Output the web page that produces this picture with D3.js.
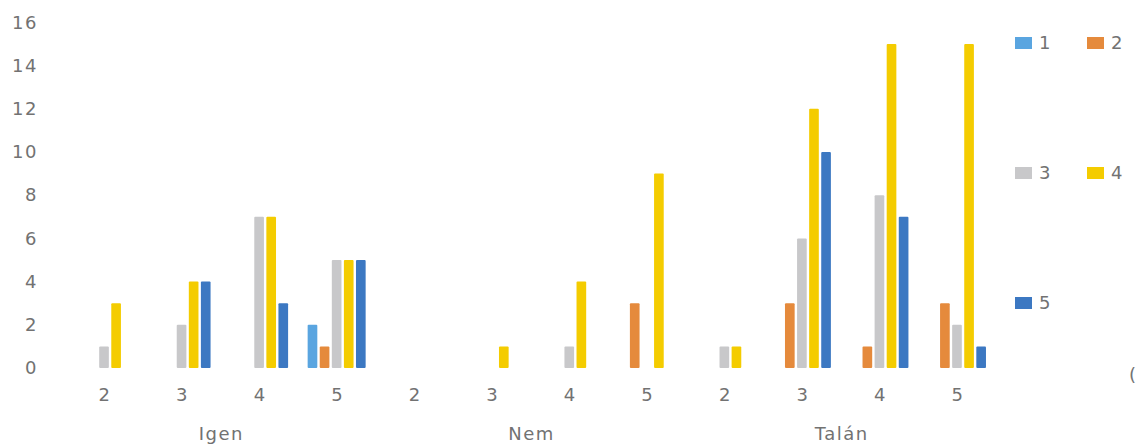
<!DOCTYPE html>
<html>
<head>
<meta charset="utf-8">
<script src="https://cdn.jsdelivr.net/npm/d3@7"></script>
<style>
  html, body { margin: 0; padding: 0; background: #fff; }
  svg { display: block; }
  text { font-family: "DejaVu Sans", "Open Sans", sans-serif; fill: #727272; letter-spacing: 1.5px; }
</style>
</head>
<body>
<svg id="chart" width="1139" height="446"></svg>
<script>
// ---- data ----
const groups = ["Igen", "Nem", "Talán"];
const subCategories = ["2", "3", "4", "5"];
const seriesNames = ["1", "2", "3", "4", "5"];
const seriesColors = ["#5aa5e0", "#e58a3c", "#c8c8ca", "#f4cc00", "#3c78c2"];
// values per category in order Igen 2..5, Nem 2..5, Talán 2..5
const series1 = [0, 0, 0, 2, 0, 0, 0, 0, 0, 0, 0, 0];
const series2 = [0, 0, 0, 1, 0, 0, 0, 3, 0, 3, 1, 3];
const series3 = [1, 2, 7, 5, 0, 0, 1, 0, 1, 6, 8, 2];
const series4 = [3, 4, 7, 5, 0, 1, 4, 9, 1, 12, 15, 15];
const series5 = [0, 4, 3, 5, 0, 0, 0, 0, 0, 10, 7, 1];
const yTicks = [0, 2, 4, 6, 8, 10, 12, 14, 16];

const allSeries = [series1, series2, series3, series4, series5];
const categories = [];
groups.forEach(g => subCategories.forEach(s => categories.push({ key: g + "-" + s, group: g, label: s })));

const svg = d3.select("#chart");
const fontSize = 18;
const fontFam = "'DejaVu Sans', 'Open Sans', sans-serif";

const x0 = d3.scaleBand().domain(categories.map(c => c.key)).range([65.25, 995.75]).padding(0);
const groupW = 58;
const x1 = d3.scaleBand().domain(seriesNames)
  .range([(x0.bandwidth() - groupW) / 2, (x0.bandwidth() + groupW) / 2])
  .paddingInner(0.2).paddingOuter(0);
const y = d3.scaleLinear().domain([0, 16]).range([368, 22.4]);

// y axis
const yAxis = d3.axisLeft(y).tickValues(yTicks).tickSize(0).tickPadding(0);
const yg = svg.append("g").attr("transform", "translate(38,0)").call(yAxis);
yg.select(".domain").remove();
yg.selectAll("text").style("font-size", fontSize + "px").attr("fill", "#727272")
  .style("font-family", fontFam);

// bars
const catG = svg.append("g").selectAll("g").data(categories).join("g")
  .attr("transform", d => `translate(${x0(d.key)},0)`);
catG.selectAll("rect")
  .data((d, i) => seriesNames.map((s, j) => ({ s, j, v: allSeries[j][i] })).filter(e => e.v > 0))
  .join("rect")
  .attr("x", e => x1(e.s))
  .attr("width", x1.bandwidth())
  .attr("y", e => y(e.v))
  .attr("height", e => y(0) - y(e.v))
  .attr("rx", 1)
  .attr("fill", e => seriesColors[e.j]);

// x axis category labels
const xAxis = d3.axisBottom(x0).tickSize(0).tickPadding(0).tickFormat(k => categories.find(c => c.key === k).label);
const xg = svg.append("g").attr("transform", "translate(1,388)").call(xAxis);
xg.select(".domain").remove();
xg.selectAll("text").style("font-size", fontSize + "px").attr("fill", "#727272")
  .style("font-family", fontFam);

// group labels
svg.append("g").selectAll("text").data(groups).join("text")
  .attr("x", g => {
    const ks = categories.filter(c => c.group === g).map(c => x0(c.key) + x0.bandwidth() / 2);
    return (d3.min(ks) + d3.max(ks)) / 2 + 1;
  })
  .attr("y", 440)
  .attr("text-anchor", "middle")
  .style("font-size", fontSize + "px")
  .text(g => g);

// legend
const legendPos = [[1015, 43], [1087, 43], [1015, 173], [1087, 173], [1015, 303]];
const lg = svg.append("g").selectAll("g").data(seriesNames).join("g")
  .attr("transform", (d, i) => `translate(${legendPos[i][0]},${legendPos[i][1]})`);
lg.append("rect").attr("x", 0).attr("y", -6).attr("width", 17).attr("height", 12)
  .attr("fill", (d, i) => seriesColors[i]);
lg.append("text").attr("x", 24).attr("y", 0).attr("dy", "0.35em")
  .style("font-size", fontSize + "px").text(d => d);

// cut-off character at right edge
svg.append("text").attr("x", 1129).attr("y", 381).style("font-size", "18px").attr("fill", "#9a9a9a").text("(");
</script>
</body>
</html>
